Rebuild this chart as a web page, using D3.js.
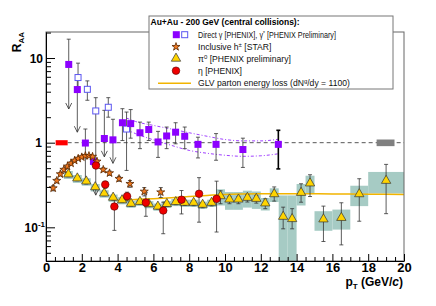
<!DOCTYPE html>
<html>
<head>
<meta charset="utf-8">
<script src="https://cdn.jsdelivr.net/npm/d3@7"></script>
<style>
  body { margin: 0; background: #fff; }
  svg { font-family: "Liberation Sans", Arial, Helvetica, sans-serif; }
</style>
</head>
<body>
<div id="chart"></div>
<script>
// direct photons, filled squares (PHENIX)
let gammaPt = [1.27, 1.75, 2.2, 2.65, 3.26, 3.74, 4.27, 4.73, 5.25, 5.74, 6.26, 6.74, 7.24, 7.75, 8.49, 9.5, 11.0, 12.98];
let gammaR  = [8.4, 4.24, 0.99, 0.60, 1.12, 1.08, 1.72, 1.68, 1.31, 1.43, 1.02, 1.2, 1.33, 1.19, 0.955, 0.955, 0.83, 0.955];
let gammaHi = [16.7, 6.0, 1.45, 0.66, 2.41, 1.89, 2.52, 2.46, 1.75, 1.75, 1.36, 1.53, 1.72, 1.53, 1.16, 1.28, 1.13, 1.4];
let gammaLo = [2.5, 1.33, 0.33, 0.55, 0.68, 0.57, 1.06, 1.13, 0.85, 1.06, 0.67, 0.85, 0.97, 0.85, 0.66, 0.62, 0.51, 0.49];
let gammaArrow = [1, 1, 0, 0, 1, 1, 0, 0, 0, 0, 0, 0, 0, 0, 0, 0, 0, 0];

// virtual photons, open squares (PHENIX preliminary)
let gstarPt = [1.79, 2.31, 2.78, 3.48, 4.5];
let gstarR  = [5.88, 4.27, 2.37, 2.62, 1.45];
let gstarHi = [8.7, 5.37, 3.4, 3.4, 2.3];
let gstarLo = [4.6, 3.17, 0.24, 2.0, 0.47];
let gstarArrow = [0, 0, 1, 0, 0];

// inclusive charged hadrons (STAR)
let hPt  = [0.4, 0.6, 0.8, 1.0, 1.2, 1.4, 1.6, 1.8, 2.0, 2.2, 2.4, 2.6, 2.85, 3.2, 3.55, 4.08, 4.69, 5.49, 6.41];
let hR   = [0.29, 0.355, 0.425, 0.48, 0.525, 0.57, 0.615, 0.65, 0.675, 0.70, 0.70, 0.685, 0.60, 0.48, 0.437, 0.375, 0.327, 0.265, 0.26];
let hErr = [0.02, 0.02, 0.02, 0.02, 0.02, 0.02, 0.02, 0.02, 0.02, 0.02, 0.02, 0.02, 0.02, 0.025, 0.025, 0.025, 0.03, 0.03, 0.035];

// pi0 (PHENIX preliminary)
let pi0Pt  = [1.25, 1.75, 2.25, 2.75, 3.25, 3.75, 4.25, 4.75, 5.25, 5.75, 6.25, 6.75, 7.25, 7.75, 8.25, 8.75, 9.25, 9.75, 10.25, 10.75, 11.25, 11.75, 12.25, 12.75, 13.25, 13.75, 14.25, 14.75, 15.5, 16.5, 17.5, 19.0];
let pi0R   = [0.418, 0.375, 0.345, 0.295, 0.249, 0.222, 0.207, 0.188, 0.198, 0.186, 0.174, 0.187, 0.197, 0.193, 0.193, 0.183, 0.193, 0.231, 0.211, 0.211, 0.221, 0.215, 0.19, 0.244, 0.132, 0.124, 0.253, 0.327, 0.123, 0.128, 0.244, 0.351];
let pi0Hi  = [0.44, 0.395, 0.365, 0.31, 0.262, 0.234, 0.218, 0.198, 0.208, 0.196, 0.184, 0.198, 0.209, 0.205, 0.206, 0.196, 0.207, 0.27, 0.232, 0.232, 0.243, 0.237, 0.217, 0.30, 0.173, 0.166, 0.327, 0.418, 0.178, 0.195, 0.375, 0.554];
let pi0Lo  = [0.396, 0.355, 0.325, 0.28, 0.236, 0.21, 0.196, 0.178, 0.188, 0.176, 0.164, 0.176, 0.185, 0.181, 0.18, 0.17, 0.179, 0.19, 0.19, 0.19, 0.199, 0.193, 0.166, 0.204, 0.096, 0.096, 0.198, 0.231, 0.068, 0.062, 0.118, 0.145];
let pi0Sys = [0.045, 0.04, 0.035, 0.03, 0.025, 0.022, 0.02, 0.018, 0.019, 0.018, 0.017, 0.018, 0.019, 0.019, 0.019, 0.018, 0.019, 0.05, 0.05, 0.05, 0.05, 0.05, 0.032, 0.045, 0.106, 0.114, 0.072, 0.08, 0.032, 0.034, 0.066, 0.1];
let pi0Bin = [0.25, 0.25, 0.25, 0.25, 0.25, 0.25, 0.25, 0.25, 0.25, 0.25, 0.25, 0.25, 0.25, 0.25, 0.25, 0.25, 0.25, 0.25, 0.25, 0.25, 0.25, 0.25, 0.25, 0.25, 0.25, 0.25, 0.25, 0.25, 0.5, 0.5, 0.5, 1.0];

// eta (PHENIX)
let etaPt = [2.79, 3.31, 3.82, 4.53, 5.58, 6.55, 7.57, 8.55, 9.53];
let etaR  = [0.537, 0.32, 0.176, 0.233, 0.196, 0.158, 0.212, 0.249, 0.217];
let etaHi = [0.58, 0.35, 0.21, 0.26, 0.256, 0.198, 0.272, 0.386, 0.351];
let etaLo = [0.50, 0.29, 0.092, 0.205, 0.135, 0.084, 0.144, 0.115, 0.088];

// pQCD direct photon band
let bandPt = [4.5, 5, 6, 7, 8, 9, 10, 11, 12, 13];
let bandHi = [1.95, 1.78, 1.6, 1.45, 1.31, 1.19, 1.09, 1.05, 1.05, 1.1];
let bandLo = [1.42, 1.28, 1.08, 0.93, 0.81, 0.75, 0.71, 0.69, 0.70, 0.74];

// GLV parton energy loss curve
let glvPt = [4, 5, 6, 7, 8, 9, 10, 12, 14, 16, 18, 20];
let glvR  = [0.207, 0.213, 0.218, 0.224, 0.231, 0.238, 0.244, 0.249, 0.25, 0.248, 0.246, 0.245];

// normalisation uncertainty boxes at R=1
let normPt = [0.875, 18.97];
let normHalf = [0.335, 0.5];
let normErr = [0.07, 0.09];

let xTicks = [0, 2, 4, 6, 8, 10, 12, 14, 16, 18, 20];

let width = 436, height = 306;
let pLeft = 46, pRight = 404, pTop = 32, pBottom = 261;

let svg = d3.select("#chart").append("svg")
  .attr("width", width).attr("height", height);

let x = d3.scaleLinear().domain([0, 20]).range([pLeft, pRight]);
let y = d3.scaleLog().domain([0.04, 20.3]).range([pBottom, pTop]);

svg.append("defs").append("clipPath").attr("id", "plot")
  .append("rect").attr("x", pLeft).attr("y", pTop)
  .attr("width", pRight - pLeft).attr("height", pBottom - pTop);

let plot = svg.append("g").attr("clip-path", "url(#plot)");

// pi0 systematic boxes
plot.selectAll(".sys").data(pi0Pt).enter().append("rect")
  .attr("x", (d, i) => x(d - pi0Bin[i]))
  .attr("width", (d, i) => x(d + pi0Bin[i]) - x(d - pi0Bin[i]))
  .attr("y", (d, i) => y(pi0R[i] + pi0Sys[i]))
  .attr("height", (d, i) => y(Math.max(pi0R[i] - pi0Sys[i], 0.01)) - y(pi0R[i] + pi0Sys[i]))
  .attr("fill", "#a6cbc4");

// R = 1 dashed line
plot.append("line")
  .attr("x1", x(1.21)).attr("x2", x(20))
  .attr("y1", y(1)).attr("y2", y(1))
  .attr("stroke", "#444").attr("stroke-width", 0.9)
  .attr("stroke-dasharray", "4,3");

let normColors = ["#ff0000", "#808080"];
plot.selectAll(".norm").data(normPt).enter().append("rect")
  .attr("x", (d, i) => x(d - normHalf[i]))
  .attr("width", (d, i) => x(d + normHalf[i]) - x(d - normHalf[i]))
  .attr("y", (d, i) => y(1 + normErr[i]))
  .attr("height", (d, i) => y(1 - normErr[i]) - y(1 + normErr[i]))
  .attr("fill", (d, i) => normColors[i]);

// band
let bandUp = d3.line().x((d, i) => x(d)).y((d, i) => y(bandHi[i])).curve(d3.curveMonotoneX);
let bandDn = d3.line().x((d, i) => x(d)).y((d, i) => y(bandLo[i])).curve(d3.curveMonotoneX);
[bandUp, bandDn].forEach(function(gen) {
  plot.append("path").attr("d", gen(bandPt))
    .attr("fill", "none").attr("stroke", "#a040ff").attr("stroke-width", 1)
    .attr("stroke-dasharray", "3,2,1,2");
});

// GLV
let glvLine = d3.line().x(d => x(d)).y((d, i) => y(glvR[i])).curve(d3.curveMonotoneX);
plot.append("path").attr("d", glvLine(glvPt))
  .attr("fill", "none").attr("stroke", "#f2b400").attr("stroke-width", 1.5);

function errorBars(pts, lo, hi, arrows, color, sw) {
  let g = plot.append("g").attr("stroke", color).attr("stroke-width", sw).attr("fill", "none");
  pts.forEach(function(p, i) {
    let cx = x(p);
    g.append("line").attr("x1", cx).attr("x2", cx).attr("y1", y(hi[i])).attr("y2", y(lo[i]));
    g.append("line").attr("x1", cx - 2).attr("x2", cx + 2).attr("y1", y(hi[i])).attr("y2", y(hi[i]));
    if (arrows && arrows[i]) {
      let ay = y(lo[i]);
      g.append("path").attr("d", `M${cx - 3},${ay - 6}L${cx},${ay}L${cx + 3},${ay - 6}`);
    } else {
      g.append("line").attr("x1", cx - 2).attr("x2", cx + 2).attr("y1", y(lo[i])).attr("y2", y(lo[i]));
    }
  });
}

errorBars(gammaPt.slice(0, 17), gammaLo, gammaHi, gammaArrow, "#333", 0.8);
errorBars([gammaPt[17]], [gammaLo[17]], [gammaHi[17]], null, "#000", 1.6);
errorBars(gstarPt, gstarLo, gstarHi, gstarArrow, "#333", 0.8);
errorBars(hPt, hR.map((r, i) => r - hErr[i]), hR.map((r, i) => r + hErr[i]), null, "#333", 0.8);
errorBars(pi0Pt, pi0Lo, pi0Hi, null, "#333", 0.8);
errorBars(etaPt, etaLo, etaHi, null, "#333", 0.8);

// markers
let sq = 7;
plot.selectAll(".gstar").data(gstarPt).enter().append("rect")
  .attr("x", d => x(d) - sq / 2 + 0.5).attr("y", (d, i) => y(gstarR[i]) - sq / 2 + 0.5)
  .attr("width", sq - 1).attr("height", sq - 1)
  .attr("fill", "#fff").attr("stroke", "#5b55f0").attr("stroke-width", 1);

plot.selectAll(".gamma").data(gammaPt).enter().append("rect")
  .attr("x", d => x(d) - sq / 2).attr("y", (d, i) => y(gammaR[i]) - sq / 2)
  .attr("width", sq).attr("height", sq)
  .attr("fill", "#8c00ff");

let star = d3.symbol().type(d3.symbolStar).size(20);
plot.selectAll(".star").data(hPt).enter().append("path")
  .attr("d", star)
  .attr("transform", (d, i) => `translate(${x(d)},${y(hR[i])})`)
  .attr("fill", "#f07820").attr("stroke", "#5a2800").attr("stroke-width", 0.8);

let tri = d3.symbol().type(d3.symbolTriangle).size(38);
plot.selectAll(".tri").data(pi0Pt).enter().append("path")
  .attr("d", tri)
  .attr("transform", (d, i) => `translate(${x(d)},${y(pi0R[i]) - 0.5})`)
  .attr("fill", "#ffd400").attr("stroke", "#333").attr("stroke-width", 0.7);

plot.selectAll(".eta").data(etaPt).enter().append("circle")
  .attr("cx", d => x(d)).attr("cy", (d, i) => y(etaR[i])).attr("r", 3.8)
  .attr("fill", "#ee0000").attr("stroke", "#500").attr("stroke-width", 0.6);

// frame
svg.append("rect").attr("x", pLeft).attr("y", pTop)
  .attr("width", pRight - pLeft).attr("height", pBottom - pTop)
  .attr("fill", "none").attr("stroke", "#666").attr("stroke-width", 1);

// x axis
let minorX = d3.range(0, 20.01, 0.5).filter(v => v % 2 !== 0);
svg.append("g").attr("transform", `translate(0,${pBottom})`)
  .call(d3.axisBottom(x).tickValues(minorX).tickSize(-4).tickSizeOuter(0).tickFormat(""))
  .call(g => g.select(".domain").remove());
let xAx = svg.append("g").attr("transform", `translate(0,${pBottom})`)
  .call(d3.axisBottom(x).tickValues(xTicks).tickSize(-7).tickSizeOuter(0).tickPadding(2).tickFormat(d3.format("d")));
xAx.select(".domain").attr("stroke", "#000");
xAx.selectAll("text").attr("font-size", 13).attr("font-weight", "bold").attr("fill", "#000")
  .attr("font-family", "Liberation Sans, Arial, sans-serif");

// y axis
let minorY = [];
[0.01, 0.1, 1, 10].forEach(function(dec) {
  for (let k = 2; k <= 9; k++) {
    let v = dec * k;
    if (v >= 0.04 && v <= 20.3) minorY.push(v);
  }
});
svg.append("g").attr("transform", `translate(${pLeft},0)`)
  .call(d3.axisLeft(y).tickValues(minorY).tickSize(-5).tickSizeOuter(0).tickFormat(""))
  .call(g => g.select(".domain").remove());
let yAx = svg.append("g").attr("transform", `translate(${pLeft},0)`)
  .call(d3.axisLeft(y).tickValues([0.1, 1, 10]).tickSize(-9).tickSizeOuter(0).tickFormat(""));
yAx.select(".domain").attr("stroke", "#000");

let yLab = svg.append("g").attr("font-size", 12).attr("font-weight", "bold").attr("text-anchor", "end");
yLab.append("text").attr("x", 43).attr("y", y(10) + 4.5).text("10");
yLab.append("text").attr("x", 42).attr("y", y(1) + 4.5).text("1");
let tenth = yLab.append("text").attr("x", 45).attr("y", y(0.1) + 4.5);
tenth.append("tspan").text("10");
tenth.append("tspan").attr("dy", -5).attr("font-size", 8).text("-1");

// axis titles
let yTitle = svg.append("text")
  .attr("transform", `translate(21,${pTop}) rotate(-90)`)
  .attr("text-anchor", "end").attr("font-size", 12).attr("font-weight", "bold");
yTitle.append("tspan").text("R");
yTitle.append("tspan").attr("dy", 3).attr("font-size", 8).text("AA");

let xTitle = svg.append("text")
  .attr("x", 403).attr("y", 286)
  .attr("text-anchor", "end").attr("font-size", 12).attr("font-weight", "bold");
xTitle.append("tspan").text("p");
xTitle.append("tspan").attr("dy", 3).attr("font-size", 8).text("T");
xTitle.append("tspan").attr("dy", -3).text(" (GeV/");
xTitle.append("tspan").attr("font-style", "italic").text("c");
xTitle.append("tspan").text(")");

// legend
let leg = svg.append("g");
leg.append("rect").attr("x", 149).attr("y", 16).attr("width", 244).attr("height", 73)
  .attr("fill", "#fff").attr("stroke", "#777").attr("stroke-width", 1);
leg.append("text").attr("x", 150.5).attr("y", 24.5)
  .attr("font-size", 8.5).attr("font-weight", "bold")
  .text("Au+Au - 200 GeV (central collisions):");

let rowY = [34.7, 46.8, 58.5, 70.7, 83.3];
leg.append("rect").attr("x", 176.3 - 3.5).attr("y", rowY[0] - 3.5).attr("width", 7).attr("height", 7).attr("fill", "#8c00ff");
leg.append("rect").attr("x", 184.7 - 3).attr("y", rowY[0] - 3).attr("width", 6).attr("height", 6)
  .attr("fill", "#fff").attr("stroke", "#5b55f0");
leg.append("path").attr("d", star).attr("transform", `translate(176,${rowY[1]})`)
  .attr("fill", "#f07820").attr("stroke", "#5a2800").attr("stroke-width", 0.8);
leg.append("path").attr("d", tri).attr("transform", `translate(176,${rowY[2]})`)
  .attr("fill", "#ffd400").attr("stroke", "#333").attr("stroke-width", 0.7);
leg.append("circle").attr("cx", 176).attr("cy", rowY[3]).attr("r", 3.8)
  .attr("fill", "#ee0000").attr("stroke", "#500").attr("stroke-width", 0.6);
leg.append("line").attr("x1", 158).attr("x2", 191).attr("y1", rowY[4]).attr("y2", rowY[4])
  .attr("stroke", "#f2b400").attr("stroke-width", 1.5);

let legText = leg.append("g").attr("font-size", 8.6).attr("fill", "#111");
// the first entry is set a little narrower, as in the original
let t0 = legText.append("text")
  .attr("transform", `translate(198,${rowY[0] + 3}) scale(0.84,1)`);
t0.append("tspan").text("Direct γ [PHENIX], γ");
t0.append("tspan").attr("dy", -3).attr("font-size", 6).text("*");
t0.append("tspan").attr("dy", 3).text(" [PHENIX Preliminary]");
let t1 = legText.append("text").attr("x", 198).attr("y", rowY[1] + 3);
t1.append("tspan").text("Inclusive h");
t1.append("tspan").attr("dy", -3).attr("font-size", 6).text("±");
t1.append("tspan").attr("dy", 3).text(" [STAR]");
let t2 = legText.append("text").attr("x", 198).attr("y", rowY[2] + 3);
t2.append("tspan").text("π");
t2.append("tspan").attr("dy", -3).attr("font-size", 6).text("0");
t2.append("tspan").attr("dy", 3).text(" [PHENIX preliminary]");
legText.append("text").attr("x", 198).attr("y", rowY[3] + 3).text("η [PHENIX]");
let t4 = legText.append("text").attr("x", 198).attr("y", rowY[4] + 3);
t4.append("tspan").text("GLV parton energy loss (dN");
t4.append("tspan").attr("dy", -3).attr("font-size", 6).text("g");
t4.append("tspan").attr("dy", 3).text("/dy = 1100)");
</script>
</body>
</html>
